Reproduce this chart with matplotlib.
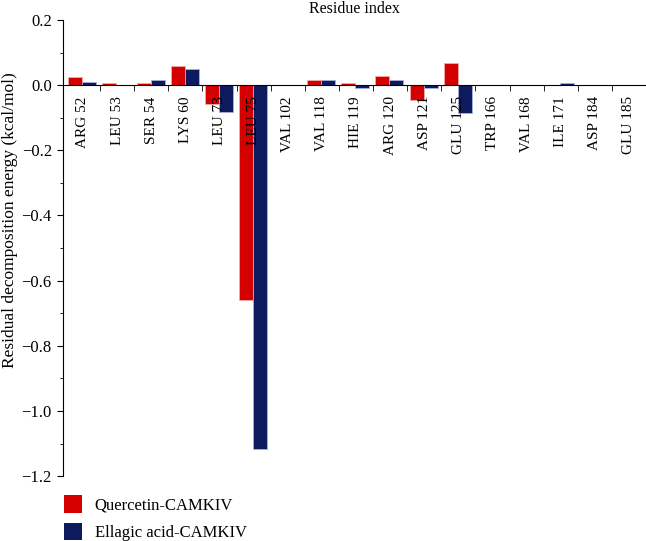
import matplotlib.pyplot as plt
import numpy as np
from matplotlib.patches import Patch
from matplotlib.ticker import MultipleLocator

plt.rcParams['font.family'] = ['Liberation Serif', 'DejaVu Serif']

residues = ['ARG 52', 'LEU 53', 'SER 54', 'LYS 60', 'LEU 73', 'LEU 75',
            'VAL 102', 'VAL 118', 'HIE 119', 'ARG 120', 'ASP 121', 'GLU 125',
            'TRP 166', 'VAL 168', 'ILE 171', 'ASP 184', 'GLU 185']
quercetin = [0.026, 0.008, 0.008, 0.058, -0.057, -0.659,
             0.0, 0.015, 0.008, 0.029, -0.044, 0.069,
             0.0, 0.0, 0.0, 0.0, 0.0]
ellagic = [0.011, 0.0, 0.017, 0.050, -0.082, -1.116,
           0.0, 0.015, -0.009, 0.016, -0.009, -0.085,
           0.0, 0.0, 0.007, 0.0, 0.0]

red = '#d40000'
navy = '#0e1a5e'

fig = plt.figure(figsize=(6.46, 5.41), dpi=100)
ax = fig.add_axes([0.0975, 0.12, 0.9025, 0.843])

x = np.arange(len(residues))
w = 0.41
ax.bar(x - w / 2 - 0.02, quercetin, w, color=red, edgecolor='#f4b0b0', linewidth=0.5)
ax.bar(x + w / 2 - 0.02, ellagic, w, color=navy, edgecolor='#aab2d8', linewidth=0.6)

ax.set_xlim(-0.585, 16.5)
ax.set_ylim(-1.2, 0.2)

# x axis sits on the zero line
ax.spines['bottom'].set_position(('data', 0))
ax.spines['top'].set_visible(False)
ax.spines['right'].set_visible(False)

ax.set_xticks(x)
ax.set_xticklabels(residues, rotation=90, va='top', fontsize=11)
ax.tick_params(axis='x', which='major', length=0, pad=8)
ax.set_xticks(np.arange(0.5, 16.6, 1), minor=True)
ax.tick_params(axis='x', which='minor', direction='out', length=4)

ax.yaxis.set_major_locator(MultipleLocator(0.2))
ax.yaxis.set_minor_locator(MultipleLocator(0.1))
ax.set_yticklabels([f'{v:.1f}'.replace('-', '\u2212') for v in ax.get_yticks()], fontsize=12)
ax.tick_params(axis='y', which='major', length=4.5, direction='out')
ax.tick_params(axis='y', which='minor', length=2.5, direction='out')

ax.set_ylabel('Residual decomposition energy (kcal/mol)', fontsize=12.5)
ax.yaxis.set_label_coords(-0.077, 0.561)
ax.set_title('Residue index', fontsize=11.5, pad=5)

handles = [Patch(facecolor=red, edgecolor='none', label='Quercetin-CAMKIV'),
           Patch(facecolor=navy, edgecolor='none', label='Ellagic acid-CAMKIV')]
fig.legend(handles=handles, loc='upper left', bbox_to_anchor=(0.086, 0.1),
           frameon=False, fontsize=12, handlelength=1.1, handleheight=1.25,
           labelspacing=0.55, handletextpad=0.75, borderpad=0)

fig.savefig('out.png', dpi=100)
